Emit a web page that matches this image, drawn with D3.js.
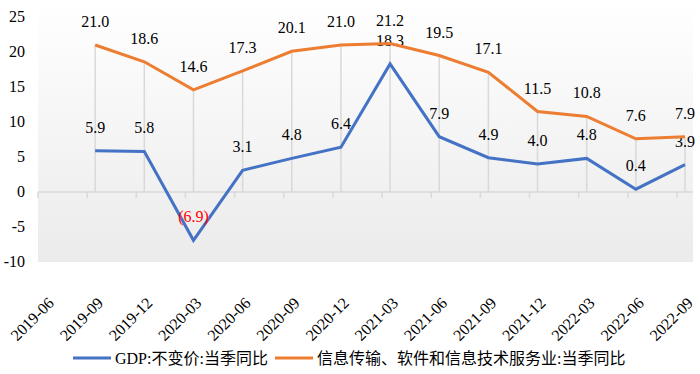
<!DOCTYPE html>
<html>
<head>
<meta charset="utf-8">
<script src="https://cdn.jsdelivr.net/npm/d3@7"></script>
</head>
<body style="margin:0; background:#fff">
<svg id="chart" width="700" height="374"></svg>
<script>
// quarters on the x axis (2019-06 has no values)
const categories = ["2019-06", "2019-09", "2019-12", "2020-03", "2020-06", "2020-09", "2020-12",
  "2021-03", "2021-06", "2021-09", "2021-12", "2022-03", "2022-06", "2022-09"];
const gdpValues = [null, 5.9, 5.8, -6.9, 3.1, 4.8, 6.4, 18.3, 7.9, 4.9, 4.0, 4.8, 0.4, 3.9];
const itValues = [null, 21.0, 18.6, 14.6, 17.3, 20.1, 21.0, 21.2, 19.5, 17.1, 11.5, 10.8, 7.6, 7.9];
const yTicks = [-10, -5, 0, 5, 10, 15, 20, 25];
const seriesNames = ["GDP:不变价:当季同比", "信息传输、软件和信息技术服务业:当季同比"];
const colors = ["#4472C4", "#ED7D31"];

const FONT = "'Liberation Serif', 'Noto Sans CJK SC', serif";

let svg = d3.select("#chart");

let x = d3.scalePoint().domain(categories).range([46, 685]);
let y = d3.scaleLinear().domain([-10, 25]).range([262, 17]);

// plot background, light gray fading in toward the bottom
let grad = svg.append("defs").append("linearGradient")
  .attr("id", "bg").attr("x1", 0).attr("y1", 0).attr("x2", 0).attr("y2", 1);
grad.append("stop").attr("offset", "0%").attr("stop-color", "#ffffff");
grad.append("stop").attr("offset", "100%").attr("stop-color", "#ebebeb");
svg.append("rect")
  .attr("x", 38).attr("y", 0)
  .attr("width", 693 - 38).attr("height", y(-10))
  .attr("fill", "url(#bg)");

// drop lines from the top series to the zero line
categories.forEach((c, i) => {
  if (gdpValues[i] == null) return;
  let top = Math.max(gdpValues[i], itValues[i]);
  svg.append("line")
    .attr("x1", x(c)).attr("x2", x(c))
    .attr("y1", y(top)).attr("y2", y(0))
    .attr("stroke", "#d9d9d9").attr("stroke-width", 1.5);
});

// x axis line at zero with ticks shifted a bit left of the points
svg.append("line")
  .attr("x1", 38).attr("x2", 693)
  .attr("y1", y(0)).attr("y2", y(0))
  .attr("stroke", "#d9d9d9").attr("stroke-width", 1.5);
categories.forEach(c => {
  svg.append("line")
    .attr("x1", x(c) - 8).attr("x2", x(c) - 8)
    .attr("y1", y(0)).attr("y2", y(0) + 6)
    .attr("stroke", "#d9d9d9").attr("stroke-width", 1.5);
});

// y tick labels
svg.selectAll(".ylab").data(yTicks).enter().append("text")
  .attr("x", 25).attr("y", d => y(d) + 5)
  .attr("text-anchor", "end")
  .style("font-family", FONT)
  .attr("font-size", 16).attr("fill", "#000")
  .text(d => d);

// x labels rotated
categories.forEach(c => {
  svg.append("text")
    .attr("transform", "translate(" + (x(c) + 9) + ",304) rotate(-45)")
    .attr("text-anchor", "end")
    .style("font-family", FONT)
    .attr("font-size", 16).attr("fill", "#000")
    .text(c);
});

// series lines
let line = d3.line()
  .defined(d => d.v != null)
  .x(d => x(d.c)).y(d => y(d.v));

[gdpValues, itValues].forEach((vals, k) => {
  let pts = categories.map((c, i) => ({ c: c, v: vals[i] }));
  svg.append("path")
    .datum(pts)
    .attr("d", line)
    .attr("fill", "none")
    .attr("stroke", colors[k]).attr("stroke-width", 3);

  svg.selectAll(".lab" + k).data(pts.filter(d => d.v != null)).enter().append("text")
    .attr("x", d => x(d.c)).attr("y", d => y(d.v) - 18)
    .attr("text-anchor", "middle")
    .style("font-family", FONT)
    .attr("font-size", 16)
    .attr("fill", d => d.v < 0 ? "#ff0000" : "#000")
    .text(d => d.v < 0 ? "(" + Math.abs(d.v).toFixed(1) + ")" : d.v.toFixed(1));
});

// legend
let legendX = [73, 275];
seriesNames.forEach((name, k) => {
  svg.append("line")
    .attr("x1", legendX[k]).attr("x2", legendX[k] + 38)
    .attr("y1", 358).attr("y2", 358)
    .attr("stroke", colors[k]).attr("stroke-width", 3);
  svg.append("text")
    .attr("x", legendX[k] + 42).attr("y", 364)
    .style("font-family", FONT)
    .attr("font-size", 16).attr("fill", "#000")
    .text(name);
});
</script>
</body>
</html>
